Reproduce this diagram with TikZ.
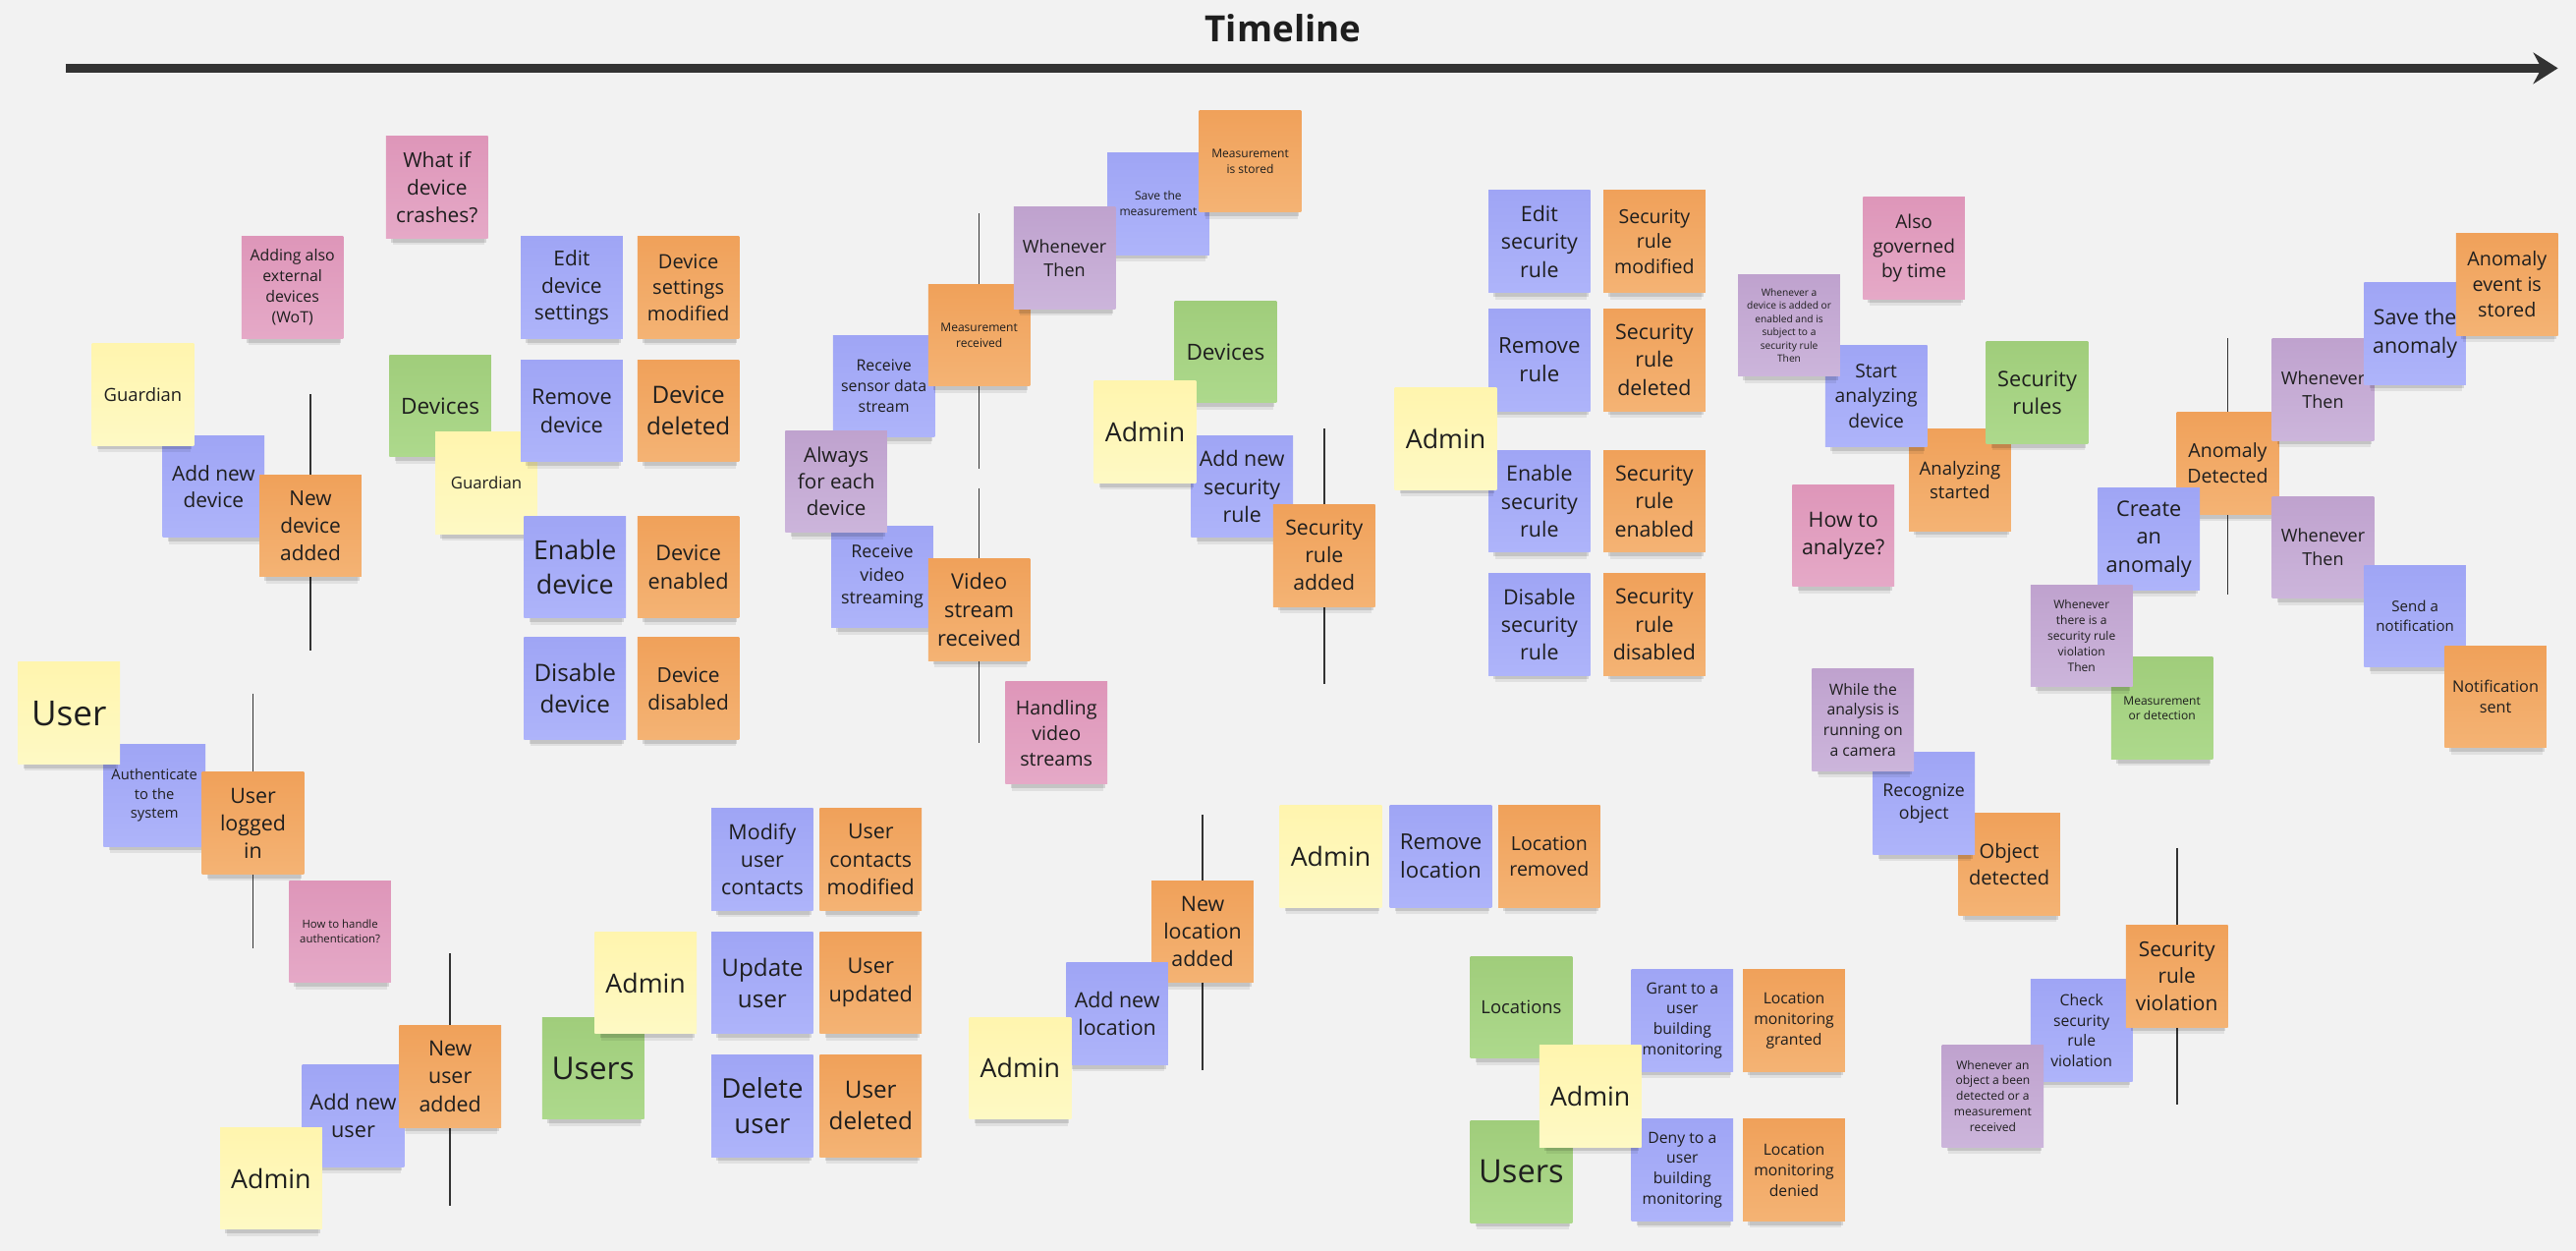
\documentclass[tikz,border=0pt]{standalone}
\usepackage{fontspec}
\setmainfont{Open Sans}
\usepackage{tikz}
\usetikzlibrary{arrows.meta,shadows}
\definecolor{bgc}{HTML}{F2F2F2}
\definecolor{ink}{HTML}{1E1E1E}
\definecolor{barc}{HTML}{333333}
\definecolor{evtop}{HTML}{F0A15A}
\definecolor{evbot}{HTML}{F4B374}
\definecolor{cmtop}{HTML}{9FA5F5}
\definecolor{cmbot}{HTML}{AEB4FA}
\definecolor{actop}{HTML}{FFF5AE}
\definecolor{acbot}{HTML}{FEF9C4}
\definecolor{agtop}{HTML}{A0CD7B}
\definecolor{agbot}{HTML}{ADD98C}
\definecolor{hotop}{HTML}{DE96B9}
\definecolor{hobot}{HTML}{E5A9C7}
\definecolor{potop}{HTML}{BFA2CE}
\definecolor{pobot}{HTML}{CCB5DB}
\pgfdeclarelayer{back}
\pgfsetlayers{back,main}
\begin{document}
\begin{tikzpicture}[x=1pt,y=-1pt,
    note/.style={minimum width=62pt,minimum height=62pt,inner sep=0pt,align=center,text=ink,
      general shadow={fill=black,opacity=0.07,shadow scale=0.9,shadow xshift=1pt,shadow yshift=-8pt},
      general shadow={fill=black,opacity=0.12,shadow scale=0.93,shadow xshift=1pt,shadow yshift=-5pt}},
    ev/.style={note,top color=evtop,bottom color=evbot},
    cmd/.style={note,top color=cmtop,bottom color=cmbot},
    act/.style={note,top color=actop,bottom color=acbot},
    agg/.style={note,top color=agtop,bottom color=agbot},
    hot/.style={note,top color=hotop,bottom color=hobot},
    pol/.style={note,top color=potop,bottom color=pobot},
    fs/.code={\pgfmathsetmacro\lskip{1.32*#1}\tikzset{font=\fontsize{#1}{\lskip}\selectfont}},
    bar/.style={draw=barc,line width=1pt},
    axis/.style={draw=barc,line width=5pt,-{Stealth[length=15pt,width=19pt,inset=5pt]}}]
  \useasboundingbox (0,0) rectangle (1568,761);
  \node[text=ink,font=\bfseries\fontsize{22}{26}\selectfont](title)at(781,17){Timeline};
  \coordinate(tl0)at(40,41.5);
  \coordinate(tl1)at(1557,41.5);
  \draw[axis](tl0)--(tl1);
  \node[hot,fs=9.5](wot)at(178,175){Adding also\\external\\devices\\(WoT)};
  \node[hot,fs=12.5](crash)at(266,114){What if\\device\\crashes?};
  \node[cmd,fs=12.5](adddev)at(130,296){Add new\\device};
  \node[act,fs=11](grd)at(87,240){Guardian};
  \node[ev,fs=12.5](devadded)at(189,320){New\\device\\added};
  \node[agg,fs=13.5](devs)at(268,247){Devices};
  \node[act,fs=10](grd2)at(296,294){Guardian};
  \node[cmd,fs=12.5](editdev)at(348,175){Edit\\device\\settings};
  \node[ev,fs=12](devmod)at(419,175){Device\\settings\\modified};
  \node[cmd,fs=13](remdev)at(348,250){Remove\\device};
  \node[ev,fs=14.5](devdel)at(419,250){Device\\deleted};
  \node[cmd,fs=16](endev)at(350,345){Enable\\device};
  \node[ev,fs=13](deven)at(419,345){Device\\enabled};
  \node[cmd,fs=14.5](disdev)at(350,419){Disable\\device};
  \node[ev,fs=12.5](devdis)at(419,419){Device\\disabled};
  \node[cmd,fs=8.8](auth)at(94,484){Authenticate\\to the\\system};
  \node[act,fs=21](user)at(42,434){User};
  \node[ev,fs=12.8](logged)at(154,501){User\\logged\\in};
  \node[hot,fs=6.8](authq)at(207,567){How to handle\\authentication?};
  \node[cmd,fs=13](adduser)at(215,679){Add new\\user};
  \node[ev,fs=12.8](useradded)at(274,655){New\\user\\added};
  \node[act,fs=16](adm1)at(165,717){Admin};
  \node[agg,fs=19](users)at(361,650){Users};
  \node[act,fs=16](adm2)at(393,598){Admin};
  \node[cmd,fs=12.8](modcon)at(464,523){Modify\\user\\contacts};
  \node[ev,fs=12.8](conmod)at(530,523){User\\contacts\\modified};
  \node[cmd,fs=14.5](upd)at(464,598){Update\\user};
  \node[ev,fs=13](upded)at(530,598){User\\updated};
  \node[cmd,fs=16.5](del)at(464,673){Delete\\user};
  \node[ev,fs=14.5](deled)at(530,673){User\\deleted};
  \node[cmd,fs=9.5](sensor)at(538,235){Receive\\sensor data\\stream};
  \node[cmd,fs=10.7](video)at(537,351){Receive\\video\\streaming};
  \node[pol,fs=12.3](always)at(509,293){Always\\for each\\device};
  \node[ev,fs=7.2](measrec)at(596,204){Measurement\\received};
  \node[cmd,fs=7.2](savemeas)at(705,124){Save the\\measurement};
  \node[pol,fs=10.8](when1)at(648,157){Whenever\\Then};
  \node[ev,fs=7.2](measstored)at(761,98){Measurement\\is stored};
  \node[ev,fs=13](videorec)at(596,371){Video\\stream\\received};
  \node[hot,fs=11.8](videoq)at(643,446){Handling\\video\\streams};
  \node[agg,fs=13.5](devs2)at(746,214){Devices};
  \node[cmd,fs=12.8](addrule)at(756,296){Add new\\security\\rule};
  \node[act,fs=16](adm3)at(697,263){Admin};
  \node[ev,fs=12.7](ruleadded)at(806,338){Security\\rule\\added};
  \node[cmd,fs=12.8](editrule)at(937,147){Edit\\security\\rule};
  \node[ev,fs=11.7](rulemod)at(1007,147){Security\\rule\\modified};
  \node[cmd,fs=13.3](remrule)at(937,219){Remove\\rule};
  \node[ev,fs=12.8](ruledel)at(1007,219){Security\\rule\\deleted};
  \node[cmd,fs=12.8](enrule)at(937,305){Enable\\security\\rule};
  \node[ev,fs=12.8](ruleen)at(1007,305){Security\\rule\\enabled};
  \node[cmd,fs=12.8](disrule)at(937,380){Disable\\security\\rule};
  \node[ev,fs=12.8](ruledis)at(1007,380){Security\\rule\\disabled};
  \node[act,fs=16](adm4)at(880,267){Admin};
  \node[act,fs=16](adm5)at(810,521){Admin};
  \node[cmd,fs=13.3](remloc)at(877,521){Remove\\location};
  \node[ev,fs=11.7](locrem)at(943,521){Location\\removed};
  \node[ev,fs=12.8](locadded)at(732,567){New\\location\\added};
  \node[cmd,fs=12.8](addloc)at(680,617){Add new\\location};
  \node[act,fs=16](adm6)at(621,650){Admin};
  \node[agg,fs=11](locs)at(926,613){Locations};
  \node[agg,fs=19.5](users2)at(926,713){Users};
  \node[cmd,fs=9.4](grant)at(1024,621){Grant to a\\user\\building\\monitoring};
  \node[cmd,fs=9.4](deny)at(1024,712){Deny to a\\user\\building\\monitoring};
  \node[act,fs=16](adm7)at(968,667){Admin};
  \node[ev,fs=9.4](granted)at(1092,621){Location\\monitoring\\granted};
  \node[ev,fs=9.4](denied)at(1092,712){Location\\monitoring\\denied};
  \node[hot,fs=11.4](timeq)at(1165,151){Also\\governed\\by time};
  \node[ev,fs=11.1](anstart)at(1193,292){Analyzing\\started};
  \node[cmd,fs=11.5](startan)at(1142,241){Start\\analyzing\\device};
  \node[pol,fs=6.1](when2)at(1089,198){Whenever a\\device is added or\\enabled and is\\subject to a\\security rule\\Then};
  \node[agg,fs=13](rules)at(1240,239){Security\\rules};
  \node[hot,fs=12.8](howq)at(1122,326){How to\\analyze?};
  \node[ev,fs=11.7](anomaly)at(1356,282){Anomaly\\Detected};
  \node[cmd,fs=13](create)at(1308,328){Create\\an\\anomaly};
  \node[pol,fs=10.8](when3)at(1414,237){Whenever\\Then};
  \node[cmd,fs=12.8](saveanom)at(1470,203){Save the\\anomaly};
  \node[ev,fs=11.8](anomstored)at(1526,173){Anomaly\\event is\\stored};
  \node[pol,fs=10.8](when4)at(1414,333){Whenever\\Then};
  \node[cmd,fs=9](notify)at(1470,375){Send a\\notification};
  \node[ev,fs=9.7](notified)at(1519,424){Notification\\sent};
  \node[agg,fs=7.2](measdet)at(1316,431){Measurement\\or detection};
  \node[pol,fs=7.2](when5)at(1267,387){Whenever\\there is a\\security rule\\violation\\Then};
  \node[ev,fs=12](objdet)at(1223,526){Object\\detected};
  \node[cmd,fs=10.6](recog)at(1171,489){Recognize\\object};
  \node[pol,fs=9.4](when6)at(1134,438){While the\\analysis is\\running on\\a camera};
  \node[cmd,fs=9.4](check)at(1267,627){Check\\security\\rule\\violation};
  \node[ev,fs=12.5](violation)at(1325,594){Security\\rule\\violation};
  \node[pol,fs=7.2](when7)at(1213,667){Whenever an\\object a been\\detected or a\\measurement\\received};
  \begin{pgfonlayer}{back}
    \fill[bgc](0,0)rectangle(1568,761);
    \draw[bar](devadded.center)++(0,-80)--++(0,156);
    \draw[bar](logged.center)++(0,-79)--++(0,155);
    \draw[bar](useradded.center)++(0,-75)--++(0,154);
    \draw[bar](measrec.center)++(0,-74)--++(0,155);
    \draw[bar](videorec.center)++(0,-74)--++(0,155);
    \draw[bar](ruleadded.center)++(0,-77)--++(0,155);
    \draw[bar](locadded.center)++(0,-71)--++(0,155);
    \draw[bar](anomaly.center)++(0,-76)--++(0,156);
    \draw[bar](violation.center)++(0,-78)--++(0,156);
  \end{pgfonlayer}
\end{tikzpicture}
\end{document}
